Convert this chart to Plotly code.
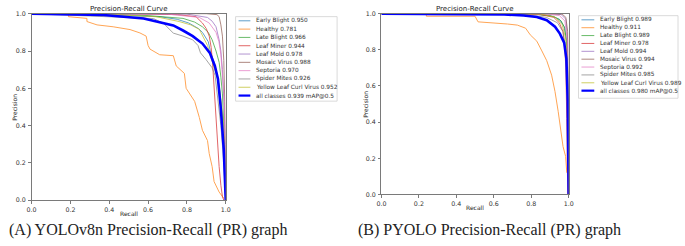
import plotly.graph_objects as go

W, H = 685, 246

CLASS_NAMES = ["Early Blight", "Healthy", "Late Blight", "Leaf Miner", "Leaf Mold",
               "Mosaic Virus", "Septoria", "Spider Mites", "Yellow Leaf Curl Virus"]
COLORS = ["#1f77b4", "#ff7f0e", "#2ca02c", "#d62728", "#9467bd",
          "#8c564b", "#e377c2", "#7f7f7f", "#bcbd22"]
AP_A = [0.950, 0.781, 0.966, 0.944, 0.978, 0.988, 0.970, 0.926, 0.952]
MAP_A = 0.939
AP_B = [0.989, 0.911, 0.989, 0.978, 0.994, 0.994, 0.992, 0.985, 0.989]
MAP_B = 0.980
TICKS = [0.0, 0.2, 0.4, 0.6, 0.8, 1.0]
TICK_LABELS = ["0.0", "0.2", "0.4", "0.6", "0.8", "1.0"]

# ---- (A) YOLOv8n curves (recall, precision) ----
A_EARLY_R = [0, 0.3, 0.66, 0.75, 0.81, 0.86, 0.88, 0.91, 0.923, 0.94, 0.957, 0.97, 0.983, 0.995, 1.0]
A_EARLY_P = [1.0, 0.995, 0.984, 0.97, 0.95, 0.92, 0.9, 0.85, 0.79, 0.74, 0.67, 0.58, 0.44, 0.2, 0.0]
A_HEALTHY_R = [0, 0.19, 0.19, 0.285, 0.285, 0.337, 0.42, 0.507, 0.558, 0.59, 0.6, 0.61, 0.66, 0.73,
               0.745, 0.787, 0.796, 0.84, 0.864, 0.88, 0.906, 0.915, 0.93, 0.94, 0.966, 0.99]
A_HEALTHY_P = [1.0, 1.0, 0.984, 0.975, 0.958, 0.94, 0.93, 0.915, 0.897, 0.88, 0.83, 0.81, 0.78, 0.775,
               0.72, 0.68, 0.6, 0.53, 0.444, 0.375, 0.32, 0.25, 0.18, 0.1, 0.044, 0.01]
A_LATE_R = [0, 0.4, 0.6, 0.78, 0.84, 0.88, 0.91, 0.93, 0.95, 0.966, 0.975, 0.983, 0.992, 1.0]
A_LATE_P = [1.0, 0.998, 0.99, 0.975, 0.955, 0.93, 0.9, 0.86, 0.8, 0.74, 0.66, 0.57, 0.35, 0.0]
A_MINER_R = [0, 0.5, 0.75, 0.847, 0.88, 0.9, 0.915, 0.925, 0.932, 0.94, 0.95, 0.958, 0.966, 0.975, 0.983, 0.99]
A_MINER_P = [1.0, 1.0, 0.995, 0.984, 0.95, 0.92, 0.88, 0.82, 0.74, 0.6, 0.45, 0.3, 0.18, 0.08, 0.02, 0.0]
A_MOLD_R = [0, 0.8, 0.906, 0.93, 0.95, 0.966, 0.975, 0.983, 0.992, 0.998, 1.0]
A_MOLD_P = [1.0, 0.998, 0.98, 0.96, 0.93, 0.86, 0.8, 0.7, 0.5, 0.3, 0.0]
A_MOSAIC_R = [0, 0.9, 0.955, 0.966, 0.975, 0.983, 0.99, 0.995, 1.0]
A_MOSAIC_P = [1.0, 1.0, 0.995, 0.984, 0.94, 0.88, 0.75, 0.53, 0.0]
A_SEPT_R = [0, 0.7, 0.864, 0.915, 0.95, 0.965, 0.975, 0.985, 0.993, 1.0]
A_SEPT_P = [1.0, 0.998, 0.98, 0.95, 0.9, 0.85, 0.78, 0.65, 0.53, 0.0]
A_SPIDER_R = [0, 0.17, 0.4, 0.628, 0.68, 0.73, 0.78, 0.83, 0.857, 0.87, 0.898, 0.93,
              0.945, 0.96, 0.975, 0.99, 1.0]
A_SPIDER_P = [1.0, 0.993, 0.985, 0.974, 0.948, 0.896, 0.88, 0.86, 0.83, 0.79, 0.755, 0.71,
              0.67, 0.55, 0.4, 0.2, 0.0]
A_YELLOW_R = [0, 0.4, 0.64, 0.76, 0.82, 0.864, 0.906, 0.93, 0.966, 0.985, 0.995, 1.0]
A_YELLOW_P = [1.0, 0.996, 0.984, 0.958, 0.94, 0.916, 0.83, 0.74, 0.62, 0.44, 0.25, 0.0]
A_ALL_R = [0, 0.2, 0.37, 0.474, 0.577, 0.643, 0.73, 0.78, 0.83, 0.88, 0.918, 0.944, 0.96, 0.974, 0.99, 1.0]
A_ALL_P = [1.0, 0.998, 0.993, 0.984, 0.974, 0.958, 0.9375, 0.91, 0.88, 0.84, 0.79, 0.72, 0.65, 0.5, 0.27, 0.0]

# ---- (B) PYOLO curves ----
B_EARLY_R = [0, 0.8, 0.9, 0.95, 0.975, 0.99, 0.997, 1.0]
B_EARLY_P = [1.0, 0.998, 0.99, 0.97, 0.93, 0.85, 0.6, 0.0]
B_HEALTHY_R = [0, 0.24, 0.24, 0.5, 0.516, 0.6, 0.673, 0.726, 0.77, 0.795, 0.83, 0.857, 0.883,
               0.909, 0.927, 0.944, 0.962, 0.97, 0.984, 0.99]
B_HEALTHY_P = [1.0, 1.0, 0.986, 0.986, 0.955, 0.95, 0.943, 0.937, 0.92, 0.883, 0.848, 0.794, 0.74,
               0.66, 0.57, 0.46, 0.337, 0.265, 0.21, 0.12]
B_LATE_R = [0, 0.82, 0.92, 0.96, 0.98, 0.992, 0.998, 1.0]
B_LATE_P = [1.0, 0.998, 0.985, 0.96, 0.92, 0.8, 0.5, 0.0]
B_MINER_R = [0, 0.6, 0.85, 0.92, 0.95, 0.97, 0.98, 0.985, 0.99, 0.995]
B_MINER_P = [1.0, 1.0, 0.995, 0.98, 0.95, 0.9, 0.8, 0.7, 0.42, 0.0]
B_MOLD_R = [0, 0.9, 0.96, 0.985, 0.995, 1.0]
B_MOLD_P = [1.0, 1.0, 0.995, 0.97, 0.85, 0.0]
B_MOSAIC_R = [0, 0.9, 0.965, 0.985, 0.995, 1.0]
B_MOSAIC_P = [1.0, 1.0, 0.998, 0.98, 0.9, 0.0]
B_SEPT_R = [0, 0.88, 0.95, 0.98, 0.993, 1.0]
B_SEPT_P = [1.0, 0.998, 0.99, 0.96, 0.85, 0.0]
B_SPIDER_R = [0, 0.75, 0.88, 0.94, 0.97, 0.985, 0.995, 1.0]
B_SPIDER_P = [1.0, 0.998, 0.98, 0.95, 0.9, 0.8, 0.6, 0.0]
B_YELLOW_R = [0, 0.85, 0.93, 0.965, 0.985, 0.995, 1.0]
B_YELLOW_P = [1.0, 0.998, 0.98, 0.94, 0.86, 0.7, 0.0]
B_ALL_R = [0, 0.4, 0.656, 0.76, 0.83, 0.883, 0.927, 0.953, 0.976, 0.988, 0.995, 1.0]
B_ALL_P = [1.0, 0.998, 0.996, 0.99, 0.982, 0.964, 0.928, 0.89, 0.84, 0.75, 0.52, 0.0]

A_CURVES = [(A_EARLY_R, A_EARLY_P), (A_HEALTHY_R, A_HEALTHY_P), (A_LATE_R, A_LATE_P),
            (A_MINER_R, A_MINER_P), (A_MOLD_R, A_MOLD_P), (A_MOSAIC_R, A_MOSAIC_P),
            (A_SEPT_R, A_SEPT_P), (A_SPIDER_R, A_SPIDER_P), (A_YELLOW_R, A_YELLOW_P)]
B_CURVES = [(B_EARLY_R, B_EARLY_P), (B_HEALTHY_R, B_HEALTHY_P), (B_LATE_R, B_LATE_P),
            (B_MINER_R, B_MINER_P), (B_MOLD_R, B_MOLD_P), (B_MOSAIC_R, B_MOSAIC_P),
            (B_SEPT_R, B_SEPT_P), (B_SPIDER_R, B_SPIDER_P), (B_YELLOW_R, B_YELLOW_P)]

FONT = "DejaVu Sans"
CLASS_OPACITY = 0.7

fig = go.Figure()


def px_x(p):
    return p / W


def px_y(p):
    return 1 - p / H


annotations = []
shapes = []


def add_panel(curves, all_r, all_p, aps, mapv, xa, ya, box, legend):
    L, T, R, B = box
    for (r, p), name, col, ap in zip(curves, CLASS_NAMES, COLORS, aps):
        fig.add_trace(go.Scatter(x=r, y=p, mode="lines", xaxis=xa, yaxis=ya,
                                 line=dict(color=col, width=1), opacity=CLASS_OPACITY,
                                 showlegend=False, hoverinfo="skip"))
    fig.add_trace(go.Scatter(x=all_r, y=all_p, mode="lines", xaxis=xa, yaxis=ya,
                             line=dict(color="#0000ff", width=2.6), showlegend=False,
                             hoverinfo="skip"))
    axkey_x = "xaxis" + xa[1:]
    axkey_y = "yaxis" + ya[1:]
    common = dict(range=[0, 1], tickvals=TICKS, ticktext=TICK_LABELS, showgrid=False,
                  zeroline=False, showline=True, linecolor="#7a7a7a", linewidth=1, mirror=True,
                  ticks="outside", ticklen=2.5, tickcolor="#7a7a7a", tickwidth=0.8,
                  tickfont=dict(family=FONT, size=6.3, color="#333"))
    fig.update_layout(**{
        axkey_x: dict(domain=[L / W, R / W], anchor=ya, ticklabelstandoff=1, **common),
        axkey_y: dict(domain=[1 - B / H, 1 - T / H], anchor=xa, ticklabelstandoff=1, **common),
    })
    cx = (L + R) / 2
    annotations.append(dict(text="Precision-Recall Curve", x=px_x(cx), y=px_y(5), xref="paper",
                            yref="paper", showarrow=False, xanchor="center", yanchor="middle",
                            font=dict(family=FONT, size=7, color="#222")))
    annotations.append(dict(text="Recall", x=px_x(cx), y=px_y(B + 13.5), xref="paper",
                            yref="paper", showarrow=False, xanchor="center", yanchor="middle",
                            font=dict(family=FONT, size=6, color="#222")))
    annotations.append(dict(text="Precision", x=px_x(L - 17), y=px_y((T + B) / 2), xref="paper",
                            yref="paper", showarrow=False, xanchor="center", yanchor="middle",
                            textangle=-90, font=dict(family=FONT, size=6, color="#222")))
    bx0, by0, bx1, by1, y_first, step, lx0, lx1, tx = legend
    shapes.append(dict(type="rect", xref="paper", yref="paper", x0=px_x(bx0), x1=px_x(bx1),
                       y0=px_y(by1), y1=px_y(by0), line=dict(color="#d0d0d0", width=0.8),
                       fillcolor="white"))
    labels = [f"{n} {a:.3f}" for n, a in zip(CLASS_NAMES, aps)] + [f"all classes {mapv:.3f} mAP@0.5"]
    cols = COLORS + ["#0000ff"]
    for i, (lab, col) in enumerate(zip(labels, cols)):
        yy = y_first + i * step
        last = i == len(labels) - 1
        shapes.append(dict(type="line", xref="paper", yref="paper", x0=px_x(lx0), x1=px_x(lx1),
                           y0=px_y(yy), y1=px_y(yy),
                           line=dict(color=col, width=2.2 if last else 1),
                           opacity=1 if last else CLASS_OPACITY))
        annotations.append(dict(text=lab, x=px_x(tx), y=px_y(yy), xref="paper", yref="paper",
                                showarrow=False, xanchor="left", yanchor="middle",
                                font=dict(family=FONT, size=5.8, color="#333")))


add_panel(A_CURVES, A_ALL_R, A_ALL_P, AP_A, MAP_A, "x", "y", (27, 10, 224, 202),
          (234, 13, 337, 100, 17.3, 8.55, 237, 249, 253))
add_panel(B_CURVES, B_ALL_R, B_ALL_P, AP_B, MAP_B, "x2", "y2", (382, 10, 572, 196),
          (582, 12, 683, 97, 16.3, 8.1, 585, 598, 602))

annotations.append(dict(text="(A) YOLOv8n Precision-Recall (PR) graph", x=px_x(2), y=px_y(233),
                        xref="paper", yref="paper", showarrow=False, xanchor="left",
                        yanchor="middle", font=dict(family="Liberation Serif", size=16, color="#222")))
annotations.append(dict(text="(B) PYOLO Precision-Recall (PR) graph", x=px_x(356), y=px_y(233),
                        xref="paper", yref="paper", showarrow=False, xanchor="left",
                        yanchor="middle", font=dict(family="Liberation Serif", size=16, color="#222")))

fig.update_layout(width=W, height=H, margin=dict(l=0, r=0, t=0, b=0),
                  paper_bgcolor="white", plot_bgcolor="white",
                  annotations=annotations, shapes=shapes, showlegend=False)

fig.write_html("out.html", config={"displayModeBar": False},
               post_script="document.body.style.margin='0';document.body.style.padding='0';"
                           "document.documentElement.style.overflow='hidden';")
